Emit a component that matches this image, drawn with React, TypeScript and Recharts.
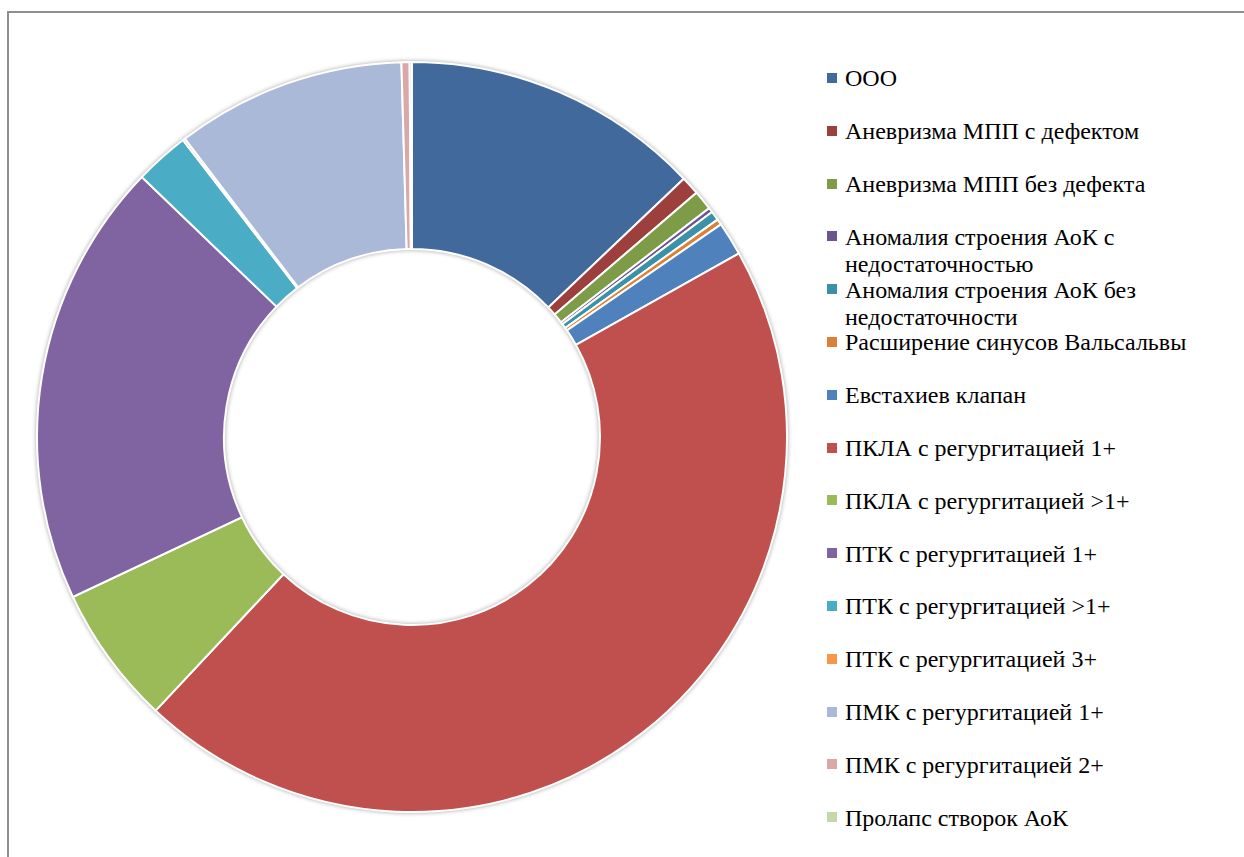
import React from "react";
import { PieChart, Pie, Cell, Legend } from "recharts";

const categories: string[] = [
  "ООО",
  "Аневризма МПП с дефектом",
  "Аневризма МПП без дефекта",
  "Аномалия строения АоК с недостаточностью",
  "Аномалия строения АоК без недостаточности",
  "Расширение синусов Вальсальвы",
  "Евстахиев клапан",
  "ПКЛА с регургитацией 1+",
  "ПКЛА с регургитацией >1+",
  "ПТК с регургитацией 1+",
  "ПТК с регургитацией >1+",
  "ПТК с регургитацией 3+",
  "ПМК с регургитацией 1+",
  "ПМК с регургитацией 2+",
  "Пролапс створок АоК",
];

const values: number[] = [
  12.9, 0.8, 0.85, 0.2, 0.4, 0.25, 1.45, 45.1, 6.0, 19.2, 2.35, 0.1, 9.9, 0.35, 0.1,
];

const colors: string[] = [
  "#41699B",
  "#9D403D",
  "#7E9C48",
  "#6A5491",
  "#3A91A8",
  "#DA8137",
  "#4F81BD",
  "#C0504D",
  "#9BBB59",
  "#8064A2",
  "#4BACC6",
  "#F79646",
  "#AAB9D7",
  "#D9A8A7",
  "#C5D7A8",
];

const data = categories.map((name, i) => ({ name, value: values[i] }));

const FONT = '"Liberation Serif", "Times New Roman", serif';

function LegendContent() {
  return (
    <div style={{ position: "relative", width: 418, height: 857, fontFamily: FONT }}>
      {categories.map((name, i) => {
        const top = 65.4 + 52.8 * i;
        return (
          <div key={name} style={{ position: "absolute", left: 0, top, width: 418 }}>
            <div
              style={{
                position: "absolute",
                left: 1,
                top: 7.6,
                width: 10,
                height: 10,
                background: colors[i],
              }}
            />
            <div
              style={{
                position: "absolute",
                left: 19,
                top: 0,
                width: 385,
                fontSize: 24,
                lineHeight: "27px",
                color: "#000",
                textAlign: "left",
                whiteSpace: "normal",
              }}
            >
              {name}
            </div>
          </div>
        );
      })}
    </div>
  );
}

export default function App() {
  return (
    <div
      style={{
        position: "absolute",
        left: 0,
        top: 0,
        width: 1244,
        height: 857,
        overflow: "hidden",
        background: "#fff",
      }}
    >
      <style>{`.recharts-pie { filter: drop-shadow(0px 0px 2px rgba(0,0,0,0.35)); }`}</style>
      <div
        style={{
          position: "absolute",
          left: 7,
          top: 11,
          width: 1280,
          height: 900,
          border: "2px solid #8f8f8f",
          boxSizing: "border-box",
        }}
      />
      <div style={{ position: "absolute", left: 0, top: 0 }}>
        <PieChart width={1244} height={857} margin={{ top: 0, right: 0, bottom: 0, left: 0 }}>
          <Pie
            data={data}
            dataKey="value"
            nameKey="name"
            cx={412}
            cy={437}
            innerRadius={188}
            outerRadius={375}
            startAngle={90}
            endAngle={-270}
            stroke="#ffffff"
            strokeWidth={2}
            isAnimationActive={false}
          >
            {data.map((d, i) => (
              <Cell key={d.name} fill={colors[i]} />
            ))}
          </Pie>
          <Legend
            layout="vertical"
            align="right"
            verticalAlign="top"
            content={() => <LegendContent />}
            wrapperStyle={{ position: "absolute", left: 826, top: 0, width: 418, height: 857 }}
          />
        </PieChart>
      </div>
    </div>
  );
}
